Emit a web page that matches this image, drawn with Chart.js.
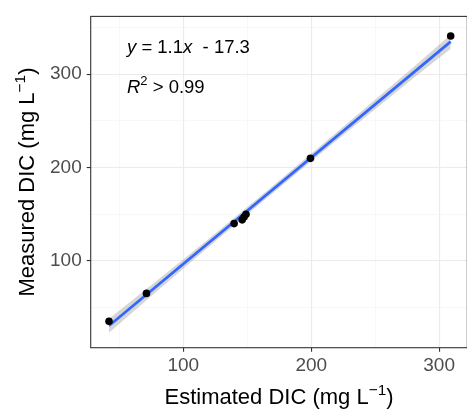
<!DOCTYPE html>
<html>
<head>
<meta charset="utf-8">
<script src="https://cdn.jsdelivr.net/npm/chart.js@4/dist/chart.umd.min.js"></script>
<style>
  html, body { margin: 0; padding: 0; overflow: hidden; background: #fff; }
  #wrap { width: 472px; height: 411px; }
</style>
</head>
<body>
<div id="wrap"><canvas id="myChart" width="472" height="411"></canvas></div>
<script>
// DIC samples, estimated vs measured (mg L-1)
const estimatedDIC = [41.9, 71.2, 139.7, 146.0, 147.5, 149.0, 199.4, 309.0];
const measuredDIC  = [35.4, 65.2, 140.0, 144.0, 147.0, 150.0, 209.9, 341.0];

// linear fit (the label rounds the slope to 1.1)
const fitSlope = 1.14;
const fitIntercept = -17.3;
const fitRange = [41.9, 309.0];

// half-width of the confidence band along the fit
const bandX    = [41.9, 80, 120, 160, 200, 240, 280, 309.0];
const bandHalf = [7.5, 5.6, 4.3, 3.8, 4.0, 4.8, 6.0, 7.5];

const xTicks = [50, 100, 150, 200, 250, 300];
const yTicks = [50, 100, 150, 200, 250, 300, 350];
const majorTicks = [100, 200, 300];

const FONT = '"Liberation Sans", Arial, sans-serif';

function fitAt(x) { return fitSlope * x + fitIntercept; }

// draw text made of pieces (italic / superscript), starting at x
function richWidth(ctx, parts, size) {
  let w = 0;
  parts.forEach(p => {
    const s = p.sup ? size * 0.7 : size;
    ctx.font = (p.italic ? 'italic ' : '') + s + 'px ' + FONT;
    w += ctx.measureText(p.text).width;
  });
  return w;
}
function drawRich(ctx, parts, x, y, size, color) {
  ctx.fillStyle = color;
  ctx.textBaseline = 'alphabetic';
  ctx.textAlign = 'left';
  parts.forEach(p => {
    const s = p.sup ? size * 0.7 : size;
    ctx.font = (p.italic ? 'italic ' : '') + s + 'px ' + FONT;
    ctx.fillText(p.text, x, p.sup ? y - size * 0.42 : y);
    x += ctx.measureText(p.text).width;
  });
}

const xTitle = [{text: 'Estimated DIC (mg L'}, {text: '\u22121', sup: true}, {text: ')'}];
const yTitle = [{text: 'Measured DIC (mg L'}, {text: '\u22121', sup: true}, {text: ')'}];
const eqLine = [{text: 'y', italic: true}, {text: ' = 1.1'}, {text: 'x', italic: true}, {text: '  - 17.3'}];
const r2Line = [{text: 'R', italic: true}, {text: '2', sup: true}, {text: ' > 0.99'}];

const panelDecor = {
  id: 'panelDecor',
  afterDraw(chart) {
    const ctx = chart.ctx;
    const a = chart.chartArea;
    ctx.save();
    // panel border
    ctx.strokeStyle = '#333333';
    ctx.lineWidth = 1.1;
    ctx.strokeRect(a.left, a.top, a.right - a.left, a.bottom - a.top);

    // equation and R2
    drawRich(ctx, eqLine, 127, 53, 18.5, '#000');
    drawRich(ctx, r2Line, 127, 93, 18.5, '#000');

    // axis titles
    const ts = 22;
    const cx = (a.left + a.right) / 2;
    let w = richWidth(ctx, xTitle, ts);
    drawRich(ctx, xTitle, cx - w / 2, 404, ts, '#000');

    const cy = (a.top + a.bottom) / 2;
    w = richWidth(ctx, yTitle, ts);
    ctx.translate(34, cy);
    ctx.rotate(-Math.PI / 2);
    drawRich(ctx, yTitle, -w / 2, 0, ts, '#000');
    ctx.restore();
  }
};

function gridOpts() {
  return {
    color: c => majorTicks.includes(c.tick && c.tick.value) ? '#ebebeb' : '#f4f4f4',
    lineWidth: c => majorTicks.includes(c.tick && c.tick.value) ? 1.1 : 0.6,
    tickColor: c => majorTicks.includes(c.tick && c.tick.value) ? '#333333' : 'rgba(0,0,0,0)',
    tickLength: 4,
    drawTicks: true
  };
}
function tickOpts() {
  return {
    color: '#4d4d4d',
    font: { family: FONT, size: 19 },
    autoSkip: false,
    maxRotation: 0,
    callback: v => majorTicks.includes(v) ? String(v) : ''
  };
}

const points = estimatedDIC.map((x, i) => ({ x: x, y: measuredDIC[i] }));
const fitLine = fitRange.map(x => ({ x: x, y: fitAt(x) }));
const bandUpper = bandX.map((x, i) => ({ x: x, y: fitAt(x) + bandHalf[i] }));
const bandLower = bandX.map((x, i) => ({ x: x, y: fitAt(x) - bandHalf[i] }));

const config = {
  type: 'line',
  data: {
    datasets: [
      { label: 'samples', data: points, showLine: false,
        pointRadius: 3.8, pointBackgroundColor: '#000', pointBorderWidth: 0 },
      { label: 'fit', data: fitLine, borderColor: '#3366ff', borderWidth: 2.7,
        pointRadius: 0, fill: false },
      { label: 'band hi', data: bandUpper, borderWidth: 0, pointRadius: 0, fill: false },
      { label: 'band lo', data: bandLower, borderWidth: 0, pointRadius: 0,
        fill: '-1', backgroundColor: 'rgba(153,153,153,0.4)' }
    ]
  },
  options: {
    responsive: false,
    animation: false,
    devicePixelRatio: 1,
    layout: { padding: { left: 0, top: 13.3, right: 4.7, bottom: 0 } },
    plugins: { legend: { display: false }, tooltip: { enabled: false } },
    scales: {
      x: {
        type: 'linear', min: 27.6, max: 322,
        afterBuildTicks: s => { s.ticks = xTicks.map(v => ({ value: v })); },
        afterFit: s => { s.height = 63.3; },
        grid: gridOpts(),
        border: { display: false },
        ticks: Object.assign(tickOpts(), { padding: 3 })
      },
      y: {
        type: 'linear', min: 7, max: 362,
        afterBuildTicks: s => { s.ticks = yTicks.map(v => ({ value: v })); },
        afterFit: s => { s.width = 90.7; },
        grid: gridOpts(),
        border: { display: false },
        ticks: Object.assign(tickOpts(), { padding: 5 })
      }
    }
  },
  plugins: [panelDecor]
};

const myChart = new Chart(document.getElementById('myChart'), config);
</script>
</body>
</html>
